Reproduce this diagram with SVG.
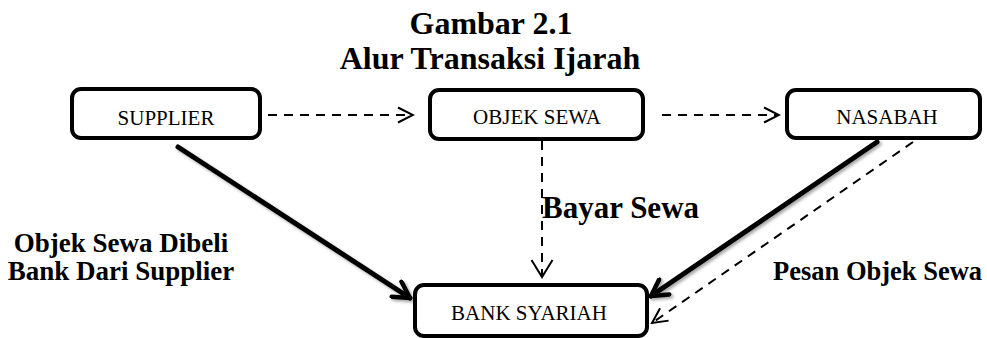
<svg xmlns="http://www.w3.org/2000/svg" width="987" height="338" viewBox="0 0 987 338">
<style>
.box{fill:#fff;stroke:#000;stroke-width:4}
.nt{font-family:"Liberation Serif","Times New Roman",serif;font-size:21px;text-anchor:middle;fill:#000}
.bt{font-family:"Liberation Serif","Times New Roman",serif;font-weight:bold;fill:#000}
.thick{stroke:#000;stroke-width:5;fill:none;stroke-linecap:round}
.dash{stroke:#000;stroke-width:2;fill:none;stroke-dasharray:9 7}
</style>
<defs>
<marker id="chev" viewBox="0 0 18 18" refX="16" refY="9" markerWidth="18" markerHeight="18" markerUnits="userSpaceOnUse" orient="auto">
<path d="M1,1.5 L16,9 L1,16.5" fill="none" stroke="#000" stroke-width="2"/>
</marker>
<marker id="chevV" viewBox="0 0 20 24" refX="18" refY="12" markerWidth="20" markerHeight="24" markerUnits="userSpaceOnUse" orient="auto">
<path d="M1,1.5 L18,12 L1,22.5" fill="none" stroke="#000" stroke-width="2"/>
</marker>
<marker id="chevB" viewBox="0 0 22 22" refX="19" refY="11" markerWidth="22" markerHeight="22" markerUnits="userSpaceOnUse" orient="auto">
<path d="M3,2 L19,11 L3,20" fill="none" stroke="#000" stroke-width="4.5" stroke-linecap="round" stroke-linejoin="round"/>
</marker>
<filter id="sh" x="-10%" y="-10%" width="130%" height="130%">
<feDropShadow dx="2" dy="2" stdDeviation="1.5" flood-color="#000" flood-opacity="0.35"/>
</filter>
</defs>
<rect width="987" height="338" fill="#fff"/>
<text class="bt" x="491" y="34" font-size="32" text-anchor="middle">Gambar 2.1</text>
<text class="bt" x="490" y="69" font-size="32" text-anchor="middle">Alur Transaksi Ijarah</text>
<g id="connectors">
<line class="dash" x1="268" y1="115" x2="413" y2="115" marker-end="url(#chev)"/>
<line class="dash" x1="662" y1="115" x2="779" y2="115" marker-end="url(#chev)"/>
<line class="dash" x1="542" y1="141" x2="542" y2="277" marker-end="url(#chevV)"/>
<line class="thick" x1="178" y1="147" x2="410" y2="298" marker-end="url(#chevB)" filter="url(#sh)"/>
<line class="thick" x1="877" y1="142" x2="651" y2="296" marker-end="url(#chevB)" filter="url(#sh)"/>
<line class="dash" x1="913" y1="142" x2="652" y2="323" marker-end="url(#chev)"/>
</g>
<g id="supplier">
<rect class="box" x="72" y="89" width="188" height="49" rx="9"/>
<text class="nt" x="166" y="125">SUPPLIER</text>
</g>
<g id="objek-sewa">
<rect class="box" x="430" y="90" width="213" height="49" rx="9"/>
<text class="nt" x="537" y="124">OBJEK SEWA</text>
</g>
<g id="nasabah">
<rect class="box" x="787" y="90" width="193" height="48" rx="9"/>
<text class="nt" x="887" y="124">NASABAH</text>
</g>
<g id="bank-syariah">
<rect class="box" x="415" y="285" width="232" height="51" rx="9"/>
<text class="nt" x="529" y="320">BANK SYARIAH</text>
</g>
<g id="labels">
<text class="bt" x="542" y="218" font-size="31">Bayar Sewa</text>
<text class="bt" x="121" y="252" font-size="27" text-anchor="middle">Objek Sewa Dibeli</text>
<text class="bt" x="121" y="280" font-size="27" text-anchor="middle">Bank Dari Supplier</text>
<text class="bt" x="773" y="280" font-size="26.5">Pesan Objek Sewa</text>
</g>
</svg>
